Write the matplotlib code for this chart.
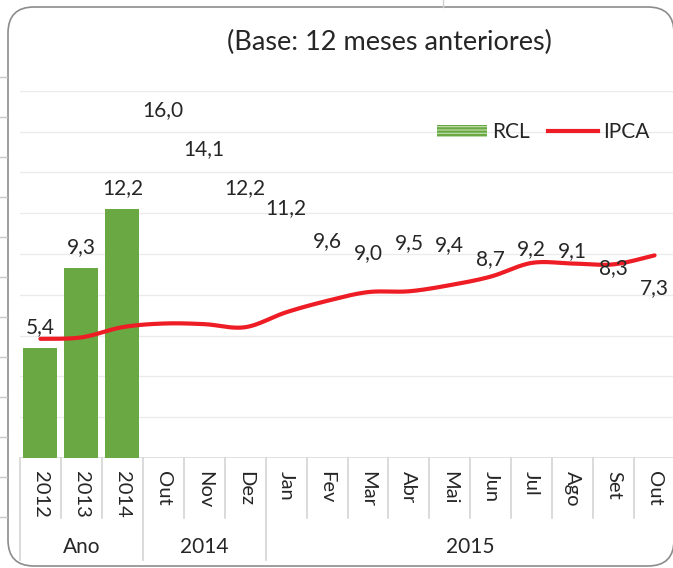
import numpy as np
import matplotlib.pyplot as plt
import matplotlib.transforms as mtransforms
from matplotlib.patches import FancyBboxPatch, Patch
from matplotlib.lines import Line2D

plt.rcParams['font.family'] = ['Lato', 'DejaVu Sans']
plt.rcParams['hatch.linewidth'] = 1.6

# ---------- dados ----------
categorias = ['2012', '2013', '2014', 'Out', 'Nov', 'Dez', 'Jan', 'Fev',
              'Mar', 'Abr', 'Mai', 'Jun', 'Jul', 'Ago', 'Set', 'Out']
grupos = ['Ano', '2014', '2015']
grupo_tamanho = [3, 3, 10]
rcl = [5.4, 9.3, 12.2, 16.0, 14.1, 12.2, 11.2, 9.6, 9.0, 9.5, 9.4, 8.7, 9.2, 9.1, 8.3, 7.3]
ipca = [5.84, 5.91, 6.41, 6.59, 6.56, 6.41, 7.14, 7.70, 8.13, 8.17, 8.47, 8.89,
        9.56, 9.53, 9.49, 9.93]
# so as barras anuais aparecem preenchidas
rcl_visivel = [True, True, True] + [False] * 13

VERDE = '#6aa843'
VERMELHO = '#ee1c25'
TEXTO = '#262626'


def suavizar(x, y, n=24):
    # curva suave tipo Catmull-Rom (parecida com a "linha suavizada" do Excel)
    x = np.asarray(x, float)
    y = np.asarray(y, float)
    px = np.concatenate([[x[0]], x, [x[-1]]])
    py = np.concatenate([[y[0]], y, [y[-1]]])
    t = np.linspace(0, 1, n, endpoint=False)[:, None]
    xs, ys = [], []
    for i in range(1, len(px) - 2):
        p0, p1, p2, p3 = px[i - 1], px[i], px[i + 1], px[i + 2]
        q0, q1, q2, q3 = py[i - 1], py[i], py[i + 1], py[i + 2]
        f = lambda a, b, c, d: 0.5 * (2 * b + (-a + c) * t + (2 * a - 5 * b + 4 * c - d) * t ** 2
                                      + (-a + 3 * b - 3 * c + d) * t ** 3)
        xs.append(f(p0, p1, p2, p3).ravel())
        ys.append(f(q0, q1, q2, q3).ravel())
    xs.append([x[-1]])
    ys.append([y[-1]])
    return np.concatenate(xs), np.concatenate(ys)


fig = plt.figure(figsize=(6.73, 5.68), dpi=100)
W, H = 673, 568
ax_top, ax_bot = 90.7, 458
ax = fig.add_axes([20 / W, 1 - ax_bot / H, 655 / W, (ax_bot - ax_top) / H])
ax_h = ax_bot - ax_top

x = np.arange(len(categorias))
cores = [VERDE if v else 'none' for v in rcl_visivel]
ax.bar(x, rcl, width=0.83, color=cores, zorder=2)

for i, v in enumerate(rcl):
    ax.annotate(f'{v:.1f}'.replace('.', ','), xy=(i, v), xytext=(0, 15),
                textcoords='offset pixels', ha='center', va='baseline',
                fontsize=15, color=TEXTO, zorder=4)

xs, ys = suavizar(x, ipca)
ax.plot(xs, ys, color=VERMELHO, lw=3, solid_capstyle='round', zorder=3)

ax.set_xlim(-0.5, len(categorias) - 0.5)
ax.set_ylim(0, 18)
ax.set_yticks(np.arange(0, 19, 2))
ax.grid(axis='y', color='#ebebeb', lw=1, zorder=0)
ax.tick_params(left=False, bottom=False, labelleft=False, labelbottom=False)
for s in ax.spines.values():
    s.set_visible(False)
ax.axhline(0, color='#d9d9d9', lw=1.2, zorder=1)

# eixo de categorias em dois niveis
tr = ax.get_xaxis_transform()
limites = np.cumsum([0] + grupo_tamanho)
for i in range(len(categorias) + 1):
    fundo = -102 / ax_h if i in limites else -60 / ax_h
    ax.plot([i - 0.5, i - 0.5], [0, fundo], transform=tr, color='#d4d4d4',
            lw=1.2, clip_on=False)
for i, c in enumerate(categorias):
    ax.text(i, -13 / ax_h, c, transform=tr, rotation=-90, ha='center', va='top',
            fontsize=14.5, color=TEXTO)
for g, a, b in zip(grupos, limites[:-1], limites[1:]):
    ax.text((a + b - 1) / 2, -89 / ax_h, g, transform=tr, ha='center', va='center',
            fontsize=15, color=TEXTO)

fig.text(389 / W, 1 - 42 / H, '(Base: 12 meses anteriores)', ha='center', va='center',
         fontsize=19.5, color=TEXTO)

handles = [Patch(facecolor='#c5e0b4', edgecolor=VERDE, hatch='-----', lw=0),
           Line2D([], [], color=VERMELHO, lw=3)]
fig.legend(handles, ['RCL', 'IPCA'], loc='center left', ncol=2, frameon=False,
           bbox_to_anchor=(437 / W, 1 - 132 / H), borderpad=0, borderaxespad=0,
           handlelength=2.4, handleheight=0.5, handletextpad=0.25, columnspacing=0.85,
           fontsize=15, labelcolor=TEXTO)

# moldura arredondada e restos da planilha ao redor
pix = mtransforms.IdentityTransform()
fig.add_artist(FancyBboxPatch((8, 2), 666, 559, boxstyle='round,pad=0,rounding_size=26',
                              transform=pix, fill=False, ec='#8c8c8c', lw=1.2))
for yy in range(77, 520, 40):
    fig.add_artist(Line2D([0, 7], [H - yy, H - yy], transform=pix, color='#c8c8c8', lw=1))
fig.add_artist(Line2D([443, 443], [H, H - 7], transform=pix, color='#cfcfcf', lw=1))

fig.savefig('out.png', dpi=100)
